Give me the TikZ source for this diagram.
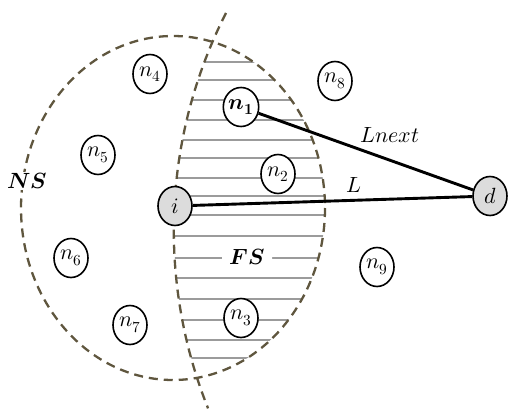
\documentclass[tikz,border=0pt]{standalone}
\usepackage{unicode-math}
\setmathfont{Latin Modern Math}
\usetikzlibrary{shapes.geometric}
\definecolor{dashcol}{RGB}{95,86,62}
\definecolor{nodegray}{RGB}{220,220,220}
\definecolor{hatchgray}{RGB}{155,155,155}
\begin{document}
\begin{tikzpicture}[x=1pt,y=-1pt,
  nd/.style={draw,ellipse,line width=1.6pt,fill=white,minimum width=34pt,minimum height=39pt,inner sep=0pt,font=\fontsize{22}{26}\selectfont},
  gnd/.style={nd,fill=nodegray},
  bound/.style={draw=dashcol,line width=2.3pt,dash pattern=on 9pt off 6pt},
  hatchline/.style={draw=hatchgray,line width=1.4pt},
  link/.style={line width=2.9pt},
  lbl/.style={font=\fontsize{22}{26}\selectfont,inner sep=1pt},
  regionlbl/.style={font=\fontsize{22}{26}\selectfont,fill=white,inner sep=1pt}
]
\useasboundingbox (0,0) rectangle (508,409);

% hatched forwarding area
\begin{scope}
  \clip (173,208) ellipse [x radius=152, y radius=172];
  \clip (653,230) circle [radius=479];
  \foreach \yy in {62,80,100,120,140,158,178,196,215,236,258,278,299,320,340,358}
    \draw[hatchline] (150,\yy) -- (340,\yy);
\end{scope}

% neighbour set boundary and divider
\draw[bound] (173,208) ellipse [x radius=152, y radius=172];
\draw[bound] (226,13) arc[start angle=207, end angle=158.2, radius=479];

% region labels
\node[regionlbl, rounded corners=6pt, minimum width=50pt, minimum height=38pt] (fs) at (247,257) {$\symbfit{FS}$};
\node[regionlbl] (ns) at (27,181) {$\symbfit{NS}$};

% nodes
\node[gnd] (i) at (175,206) {$i$};
\node[gnd] (d) at (490,196) {$d$};
\node[nd] (n1) at (241,107) {$\symbfit{n}_{\symbf{1}}$};
\node[nd] (n2) at (278,174) {$n_2$};
\node[nd] (n3) at (241,318) {$n_3$};
\node[nd] (n4) at (150,74) {$n_4$};
\node[nd] (n5) at (98,155) {$n_5$};
\node[nd] (n6) at (71,258) {$n_6$};
\node[nd] (n7) at (130,325) {$n_7$};
\node[nd] (n8) at (335,81) {$n_8$};
\node[nd] (n9) at (377,267) {$n_9$};

% links
\draw[link] (i) -- (d);
\draw[link] (n1) -- (d);

\node[lbl] (lnext) at (390,135) {$Lnext$};
\node[lbl] (ll) at (354,185) {$L$};
\end{tikzpicture}
\end{document}
